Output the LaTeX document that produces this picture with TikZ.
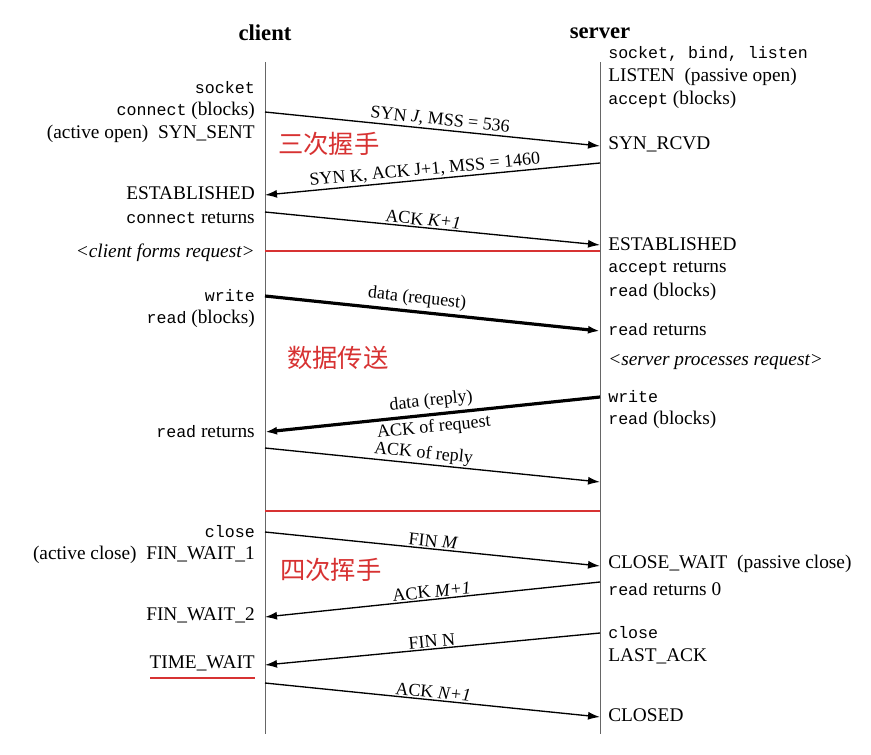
\documentclass[tikz,border=0pt]{standalone}
\usepackage{fontspec}
\setmainfont{Liberation Serif}
\setmonofont[Scale=0.86]{Liberation Mono}
\newfontfamily\cjk{Noto Sans CJK SC}
\usetikzlibrary{arrows.meta}
\definecolor{tcpred}{RGB}{215,50,50}

\begin{document}
\begin{tikzpicture}[x=0.75pt,y=-0.75pt,
    lbl/.style={font=\fontsize{14.5}{16}\selectfont, inner sep=0pt},
    lft/.style={lbl, anchor=east},
    rgt/.style={lbl, anchor=west},
    msg/.style={-{Latex[length=9pt,width=6pt]}, line width=1pt},
    bigmsg/.style={-{Latex[length=9pt,width=6pt]}, line width=2.4pt},
    tag/.style={font=\fontsize{13.5}{15}\selectfont, sloped, inner sep=1pt},
    phase/.style={font=\cjk\fontsize{19}{22}\selectfont, text=tcpred, anchor=west, inner sep=0pt}]
  \useasboundingbox (0,0) rectangle (871,754);

  % lifelines
  \node[font=\bfseries\fontsize{17}{20}\selectfont] (client) at (265,33) {client};
  \node[font=\bfseries\fontsize{17}{20}\selectfont] (server) at (600,33) {server};
  \coordinate (ctop) at (265,62);  \coordinate (cbot) at (265,734);
  \coordinate (stop) at (600,62);  \coordinate (sbot) at (600,734);
  \draw[gray!80!black, line width=0.6pt] (ctop) -- (cbot);
  \draw[gray!80!black, line width=0.6pt] (stop) -- (sbot);

  % client side
  \node[lft] (csock) at (255,88)  {\texttt{socket}};
  \node[lft] (cconn) at (255,111) {\texttt{connect} (blocks)};
  \node[lft] (csent) at (255,134) {(active open)\ \ SYN\_SENT};
  \node[lft] (cest)  at (255,193) {ESTABLISHED};
  \node[lft] (cret)  at (255,218) {\texttt{connect} returns};
  \node[lft] (cform) at (255,253) {\itshape <client forms request>};
  \node[lft] (cwr)   at (255,296) {\texttt{write}};
  \node[lft] (crdb)  at (255,319) {\texttt{read} (blocks)};
  \node[lft] (crdr)  at (255,432) {\texttt{read} returns};
  \node[lft] (ccls)  at (255,532) {\texttt{close}};
  \node[lft] (cfw1)  at (255,555) {(active close)\ \ FIN\_WAIT\_1};
  \node[lft] (cfw2)  at (255,615) {FIN\_WAIT\_2};
  \node[lft] (ctw)   at (255,663) {TIME\_WAIT};
  \draw[tcpred, line width=1.8pt] (150,678) -- (255,678);

  % server side
  \node[rgt] (ssock) at (608,54)  {\texttt{socket, bind, listen}};
  \node[rgt] (slis)  at (608,77)  {LISTEN\ \ (passive open)};
  \node[rgt] (sacc)  at (608,100) {\texttt{accept} (blocks)};
  \node[rgt] (srcvd) at (608,144) {SYN\_RCVD};
  \node[rgt] (sest)  at (608,244) {ESTABLISHED};
  \node[rgt] (saret) at (608,269) {\texttt{accept} returns};
  \node[rgt] (srdb)  at (608,292) {\texttt{read} (blocks)};
  \node[rgt] (srdr)  at (608,330) {\texttt{read} returns};
  \node[rgt] (sproc) at (608,362) {\itshape <server processes request>};
  \node[rgt] (swr)   at (608,397) {\texttt{write}};
  \node[rgt] (srdb2) at (608,420) {\texttt{read} (blocks)};
  \node[rgt] (scw)   at (608,564) {CLOSE\_WAIT\ \ (passive close)};
  \node[rgt] (sret0) at (608,589) {\texttt{read} returns 0};
  \node[rgt] (scls)  at (608,633) {\texttt{close}};
  \node[rgt] (slack) at (608,656) {LAST\_ACK};
  \node[rgt] (sclsd) at (608,715) {CLOSED};

  % phases
  \node[phase] (hs3)  at (278,144) {三次握手};
  \node[phase] (data) at (287,358) {数据传送};
  \node[phase] (hs4)  at (280,570) {四次挥手};
  \draw[tcpred, line width=1pt] (265,251) -- (600,251);
  \draw[tcpred, line width=1pt] (265,511) -- (600,511);

  % message points
  \coordinate (c1) at (265,112);  \coordinate (s1) at (600,146);
  \coordinate (s2) at (600,163);  \coordinate (c2) at (265,195);
  \coordinate (c3) at (265,212);  \coordinate (s3) at (600,245);
  \coordinate (c4) at (265,296);  \coordinate (s4) at (600,331);
  \coordinate (s5) at (600,397);  \coordinate (c5) at (265,432);
  \coordinate (c6) at (265,448);  \coordinate (s6) at (600,482);
  \coordinate (c7) at (265,532);  \coordinate (s7) at (600,566);
  \coordinate (s8) at (600,582);  \coordinate (c8) at (265,617);
  \coordinate (s9) at (600,633);  \coordinate (c9) at (265,665);
  \coordinate (c10) at (265,683); \coordinate (s10) at (600,717);

  % messages
  \draw[msg] (c1) -- node[tag, above, pos=0.52] {SYN \textit{J}, MSS = 536} (s1);
  \draw[msg] (s2) -- node[tag, above, pos=0.52] {SYN K, ACK J+1, MSS = 1460} (c2);
  \draw[msg] (c3) -- node[tag, above, pos=0.47] {ACK \textit{K+1}} (s3);
  \draw[bigmsg] (c4) -- node[tag, above, pos=0.45, inner sep=2.5pt] {data (request)} (s4);
  \draw[bigmsg] (s5) -- node[tag, above, pos=0.5, inner sep=2.5pt] {data (reply)}
                        node[tag, below, pos=0.5, inner sep=2.5pt] {ACK of request} (c5);
  \draw[msg] (c6) -- node[tag, above, pos=0.47] {ACK of reply} (s6);
  \draw[msg] (c7) -- node[tag, above, pos=0.5] {FIN \textit{M}} (s7);
  \draw[msg] (s8) -- node[tag, above, pos=0.5] {ACK \textit{M+1}} (c8);
  \draw[msg] (s9) -- node[tag, above, pos=0.5] {FIN N} (c9);
  \draw[msg] (c10) -- node[tag, above, pos=0.5] {ACK \textit{N+1}} (s10);
\end{tikzpicture}
\end{document}
